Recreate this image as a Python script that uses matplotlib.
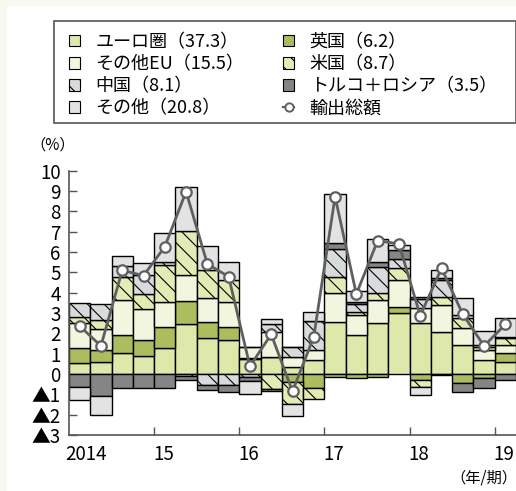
import numpy as np
import matplotlib
matplotlib.use('Agg')
import matplotlib.pyplot as plt
from matplotlib.patches import Patch, Rectangle
from matplotlib.lines import Line2D
from matplotlib.transforms import blended_transform_factory

plt.rcParams['font.family'] = ['Noto Sans CJK JP', 'DejaVu Sans']
plt.rcParams['hatch.linewidth'] = 0.8

# quarterly contributions, 2014Q1 .. 2019Q1 (%pt)
euro = [0.56, 0.61, 1.02, 0.90, 1.26, 2.48, 1.75, 1.67, 0.75, 0.85, 0.35, 0.68, 2.57,
        1.92, 2.49, 2.98, 2.49, 2.08, 1.43, 0.69, 0.61]
uk = [0.70, 0.57, 0.90, 0.77, 1.07, 1.11, 0.82, 0.66, 0.06, 0.00, -0.38, -0.71, -0.13,
      -0.20, -0.13, 0.33, -0.30, -0.05, -0.46, -0.21, 0.41]
other_eu = [1.23, 1.02, 1.72, 1.51, 1.23, 1.28, 1.15, 1.23, 0.54, 1.22, 0.50, 0.50, 1.39,
            0.98, 1.15, 1.31, 0.74, 1.31, 0.82, 0.49, 0.41]
us = [0.33, 0.46, 1.11, 0.74, 1.80, 2.16, 1.39, 1.07, 0.00, -0.74, -1.10, -0.54, 0.82,
      0.16, 0.33, 0.57, -0.33, 0.41, 0.52, 0.15, 0.33]
china = [0.69, 0.77, 0.57, 0.95, 0.16, -0.10, -0.54, -0.54, -0.13, 0.37, 0.50, 1.44, 1.36,
         0.36, 1.28, 0.49, 0.47, 0.82, 0.13, 0.10, 0.08]
tr_ru = [-0.66, -1.08, -0.67, -0.67, -0.67, -0.20, -0.25, -0.33, -0.20, -0.08, 0.00, 0.00, 0.28,
         0.13, 0.28, 0.41, 0.10, 0.08, -0.44, -0.49, -0.30]
others = [-0.61, -0.93, 0.49, 0.61, 1.44, 2.15, 1.20, 0.90, -0.66, 0.25, -0.60, 0.45, 2.41,
          0.52, 1.11, 0.28, -0.40, 0.44, 0.85, 0.69, 0.93]
total = [2.36, 1.38, 5.10, 4.84, 6.26, 8.97, 5.41, 4.79, 0.38, 1.95, -0.85, 1.83, 8.72,
         3.93, 6.56, 6.40, 2.87, 5.20, 2.94, 1.38, 2.44]

year_labels = ['2014', '15', '16', '17', '18', '19']
ytick_labels = ['▲3', '▲2', '▲1', '0', '1', '2', '3', '4', '5', '6', '7', '8', '9', '10']

series = [
    ('ユーロ圏（37.3）', euro, '#dde8aa', None),
    ('英国（6.2）', uk, '#abbd5e', None),
    ('その他EU（15.5）', other_eu, '#f2f6df', None),
    ('米国（8.7）', us, '#e2ecb4', '\\\\'),
    ('中国（8.1）', china, '#d8dbdb', '\\\\'),
    ('トルコ＋ロシア（3.5）', tr_ru, '#858585', None),
    ('その他（20.8）', others, '#e3e3e3', None),
]


def main():
    fig = plt.figure(figsize=(5.16, 4.91), dpi=100)
    fig.patch.set_facecolor('#f8f8ee')
    fig.patches.append(Rectangle((7 / 516, 0), 1, 485 / 491, transform=fig.transFigure,
                                 facecolor='white', edgecolor='none', zorder=-1))
    # legend frame
    fig.patches.append(Rectangle((54 / 516, 1 - 123 / 491), 461.5 / 516, 102 / 491,
                                 transform=fig.transFigure, facecolor='none',
                                 edgecolor='#555555', linewidth=1.2, zorder=1))
    ax = fig.add_axes([69 / 516, 56 / 491, 447 / 516, 264.3 / 491])
    ax.set_facecolor('none')

    x = np.arange(len(total))
    pos = np.zeros(len(x))
    neg = np.zeros(len(x))
    handles = {}
    for name, vals, color, hatch in series:
        v = np.array(vals)
        bottom = np.where(v >= 0, pos, neg)
        ax.bar(x, v, bottom=bottom, width=1.0, color=color, hatch=hatch,
               edgecolor='black', linewidth=1.0, zorder=2)
        pos += np.clip(v, 0, None)
        neg += np.clip(v, None, 0)
        handles[name] = Patch(facecolor=color, hatch=hatch, edgecolor='black', linewidth=0.8)

    ax.plot(x, total, color='#5f5f5f', lw=2, marker='o', ms=7.5, mfc='white',
            mec='#5f5f5f', mew=1.6, zorder=4)

    ax.set_xlim(-0.5, 20.5)
    ax.set_ylim(-3, 10)
    ax.set_yticks(np.arange(-3, 11))
    ax.set_yticklabels(ytick_labels, fontsize=13.5)
    ax.set_xticks([3.5, 7.5, 11.5, 15.5, 19.5])
    ax.set_xticklabels([])
    ax.tick_params(axis='both', direction='in', length=6, width=1, color='#555555', pad=6)
    for s in ['top', 'right']:
        ax.spines[s].set_visible(False)
    for s in ['left', 'bottom']:
        ax.spines[s].set_color('#555555')
        ax.spines[s].set_linewidth(1.2)

    trans = blended_transform_factory(ax.transData, ax.transAxes)
    for xp, lab in zip([-0.7, 3.45, 7.45, 11.45, 15.45, 19.45], year_labels):
        ax.text(xp, -0.075, lab, transform=trans, ha='left', va='center',
                fontsize=13.5, clip_on=False)
    fig.text(517 / 516, 1 - 478 / 491, '（年/期）', ha='right', va='center', fontsize=11)
    fig.text(53 / 516, 1 - 145 / 491, '（%）', ha='center', va='center', fontsize=11)

    order = ['ユーロ圏（37.3）', 'その他EU（15.5）', '中国（8.1）', 'その他（20.8）',
             '英国（6.2）', '米国（8.7）', 'トルコ＋ロシア（3.5）']
    hs = [handles[k] for k in order]
    hs.append(Line2D([], [], color='#5f5f5f', lw=1.6, marker='o', ms=6, mfc='white',
                     mec='#5f5f5f', mew=1.4))
    labels = order + ['輸出総額']
    fig.legend(hs, labels, ncol=2, loc='upper left',
               bbox_to_anchor=(69 / 516, 1 - 33 / 491), borderaxespad=0,
               fontsize=13, frameon=False,
               handlelength=0.62, handleheight=0.62, handletextpad=0.85,
               labelspacing=0.23, columnspacing=2.15, borderpad=0)

    fig.savefig('out.png', dpi=100, facecolor=fig.get_facecolor())


if __name__ == '__main__':
    main()
